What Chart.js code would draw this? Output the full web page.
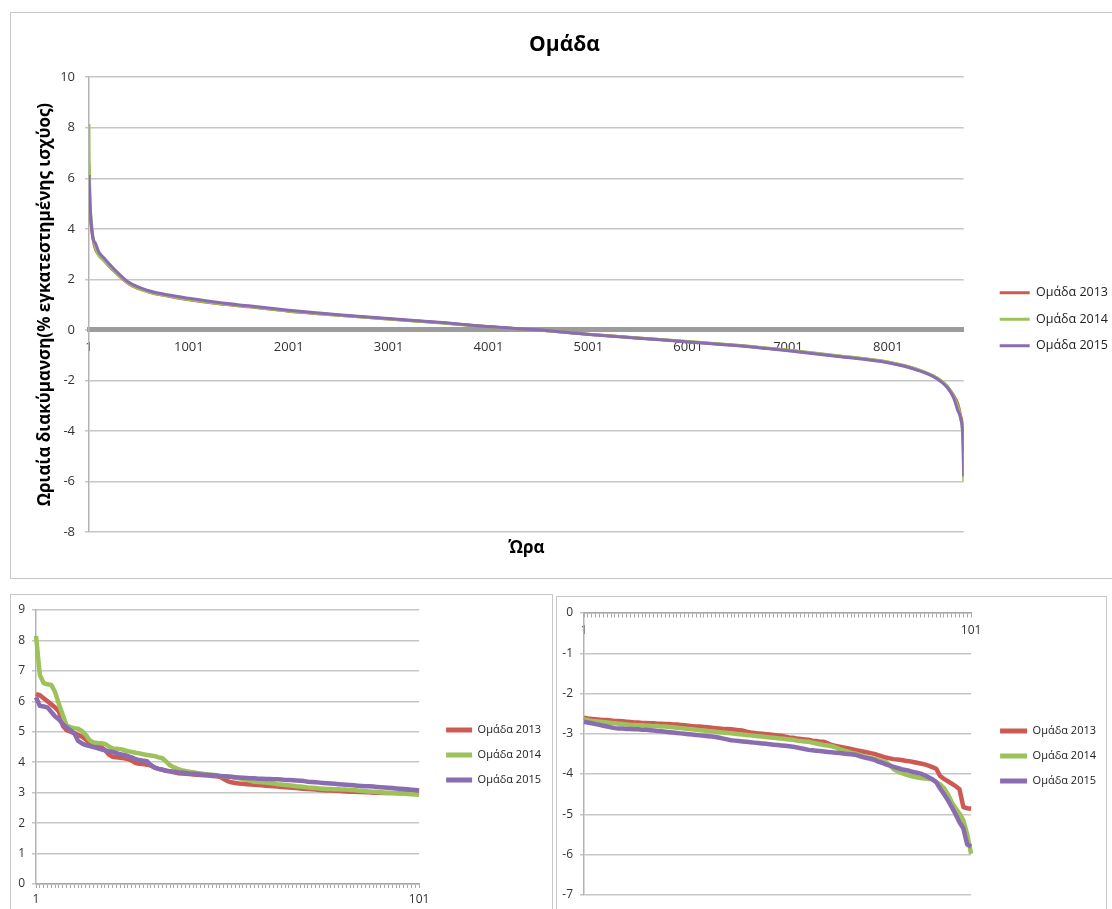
<!DOCTYPE html>
<html>
<head>
<meta charset="utf-8">
<title>Ομάδα</title>
<script src="https://cdn.jsdelivr.net/npm/chart.js@4/dist/chart.umd.min.js"></script>
<style>
  html, body { margin: 0; padding: 0; background: #fff; overflow: hidden; width: 1112px; height: 909px; }
  .frame { position: absolute; border: 1px solid #c8c8c8; box-sizing: border-box; }
  canvas { position: absolute; }
</style>
</head>
<body>
<div class="frame" style="left:10px;top:12px;width:1130px;height:567px"></div>
<div class="frame" style="left:10px;top:594px;width:543px;height:330px"></div>
<div class="frame" style="left:556px;top:596px;width:551px;height:330px"></div>
<canvas id="mainChart" width="1107" height="565" style="left:11px;top:13px"></canvas>
<canvas id="earlyChart" width="540" height="314" style="left:11px;top:595px"></canvas>
<canvas id="lateChart" width="549" height="312" style="left:557px;top:597px"></canvas>
<script>
// Series names and colours
const seriesNames = ['Ομάδα 2013', 'Ομάδα 2014', 'Ομάδα 2015'];
const seriesColors = ['#CC5A53', '#9DC25A', '#8A6DB0'];

// Full-year duration curve: sampled hours and sorted hourly variation (% of installed capacity)
const mainHours = [1, 2, 5, 10, 20, 40, 70, 101, 150, 250, 400, 600, 800, 1001, 1300, 1600, 2001, 2500, 3001, 3500, 4001, 4500, 5001, 5500, 6001, 6500, 7001, 7500, 8001, 8300, 8500, 8600, 8660, 8700, 8730, 8750, 8755, 8760];
const main2013 = [6.24, 6.2, 5.9, 5.0, 4.25, 3.62, 3.14, 2.98, 2.75, 2.33, 1.82, 1.5, 1.33, 1.19, 1.03, 0.91, 0.74, 0.58, 0.43, 0.29, 0.12, -0.01, -0.17, -0.32, -0.47, -0.62, -0.81, -1.03, -1.28, -1.58, -1.93, -2.27, -2.6, -2.91, -3.4, -3.83, -4.24, -4.86];
const main2014 = [8.15, 6.87, 6.54, 5.15, 4.52, 3.71, 3.2, 2.93, 2.75, 2.35, 1.83, 1.5, 1.34, 1.2, 1.04, 0.92, 0.75, 0.58, 0.43, 0.28, 0.12, -0.01, -0.17, -0.32, -0.46, -0.61, -0.8, -1.02, -1.27, -1.57, -1.92, -2.25, -2.64, -3.01, -3.49, -4.14, -4.7, -5.98];
const main2015 = [6.13, 5.85, 5.65, 5.05, 4.36, 3.65, 3.39, 3.07, 2.85, 2.42, 1.88, 1.55, 1.38, 1.25, 1.08, 0.95, 0.78, 0.6, 0.45, 0.3, 0.13, 0.0, -0.18, -0.33, -0.48, -0.63, -0.83, -1.05, -1.3, -1.6, -1.95, -2.3, -2.7, -3.18, -3.52, -4.13, -4.82, -5.8];
const mainTickHours = [1, 1001, 2001, 3001, 4001, 5001, 6001, 7001, 8001];

// Position labels for the 101-hour close-ups
const closeUpLabels = Array.from({ length: 101 }, (_, i) => String(i + 1));

// Highest 101 hours
const early2013 = [
  6.24, 6.2, 6.1, 6.0, 5.9, 5.8, 5.66, 5.2, 5.05, 5.0,
  4.95, 4.9, 4.84, 4.75, 4.62, 4.58, 4.53, 4.5, 4.4, 4.25,
  4.18, 4.16, 4.15, 4.13, 4.1, 4.05, 3.97, 3.95, 3.94, 3.92,
  3.89, 3.82, 3.78, 3.76, 3.72, 3.7, 3.67, 3.64, 3.63, 3.62,
  3.61, 3.6, 3.59, 3.58, 3.57, 3.56, 3.55, 3.54, 3.52, 3.45,
  3.38, 3.34, 3.32, 3.3, 3.29, 3.28, 3.27, 3.26, 3.25, 3.24,
  3.23, 3.22, 3.21, 3.2, 3.19, 3.18, 3.17, 3.16, 3.15, 3.14,
  3.13, 3.12, 3.11, 3.1, 3.09, 3.08, 3.07, 3.07, 3.06, 3.06,
  3.05, 3.04, 3.03, 3.03, 3.02, 3.02, 3.01, 3.01, 3.0, 3.0,
  3.0, 2.99, 2.99, 2.99, 2.99, 2.98, 2.98, 2.98, 2.98, 2.98, 2.98
];
const early2014 = [
  8.15, 6.87, 6.6, 6.56, 6.54, 6.3, 5.9, 5.55, 5.2, 5.15,
  5.12, 5.1, 5.02, 4.9, 4.72, 4.65, 4.63, 4.62, 4.6, 4.52,
  4.45, 4.44, 4.43, 4.4, 4.36, 4.34, 4.31, 4.29, 4.26, 4.24,
  4.22, 4.2, 4.16, 4.13, 4.02, 3.9, 3.83, 3.78, 3.74, 3.71,
  3.69, 3.67, 3.65, 3.63, 3.61, 3.6, 3.59, 3.57, 3.55, 3.54,
  3.53, 3.51, 3.49, 3.47, 3.45, 3.42, 3.39, 3.36, 3.35, 3.34,
  3.33, 3.32, 3.3, 3.28, 3.27, 3.25, 3.24, 3.23, 3.21, 3.2,
  3.19, 3.17, 3.16, 3.15, 3.14, 3.13, 3.12, 3.12, 3.11, 3.11,
  3.1, 3.1, 3.09, 3.09, 3.07, 3.06, 3.05, 3.04, 3.03, 3.02,
  3.01, 3.0, 2.99, 2.99, 2.98, 2.97, 2.97, 2.96, 2.95, 2.94, 2.93
];
const early2015 = [
  6.13, 5.85, 5.83, 5.8, 5.65, 5.5, 5.4, 5.25, 5.15, 5.05,
  4.95, 4.7, 4.62, 4.56, 4.53, 4.5, 4.46, 4.42, 4.39, 4.36,
  4.34, 4.3, 4.26, 4.24, 4.2, 4.16, 4.1, 4.07, 4.05, 4.03,
  3.9, 3.82, 3.78, 3.75, 3.72, 3.7, 3.69, 3.67, 3.66, 3.65,
  3.63, 3.62, 3.61, 3.6, 3.59, 3.58, 3.57, 3.56, 3.55, 3.54,
  3.53, 3.52, 3.51, 3.5, 3.49, 3.48, 3.47, 3.47, 3.46, 3.46,
  3.45, 3.45, 3.44, 3.44, 3.43, 3.42, 3.42, 3.41, 3.4, 3.39,
  3.38, 3.36, 3.35, 3.34, 3.33, 3.32, 3.31, 3.3, 3.29, 3.28,
  3.27, 3.26, 3.25, 3.24, 3.23, 3.22, 3.21, 3.21, 3.2, 3.19,
  3.18, 3.17, 3.16, 3.15, 3.14, 3.13, 3.12, 3.11, 3.1, 3.09, 3.07
];

// Lowest 101 hours
const late2013 = [
  -2.6, -2.62, -2.63, -2.64, -2.65, -2.66, -2.66, -2.67, -2.68, -2.68,
  -2.69, -2.7, -2.71, -2.72, -2.72, -2.73, -2.73, -2.74, -2.74, -2.75,
  -2.75, -2.76, -2.76, -2.77, -2.77, -2.78, -2.79, -2.8, -2.81, -2.82,
  -2.82, -2.83, -2.84, -2.85, -2.86, -2.87, -2.88, -2.88, -2.89, -2.9,
  -2.91, -2.92, -2.95, -2.97, -2.98, -2.99, -3.0, -3.01, -3.02, -3.03,
  -3.04, -3.05, -3.07, -3.09, -3.1, -3.12, -3.13, -3.14, -3.15, -3.17,
  -3.18, -3.2, -3.2, -3.24, -3.28, -3.3, -3.32, -3.34, -3.36, -3.38,
  -3.4, -3.42, -3.44, -3.46, -3.48, -3.5, -3.53, -3.56, -3.59, -3.61,
  -3.63, -3.64, -3.65, -3.67, -3.68, -3.7, -3.72, -3.74, -3.76, -3.79,
  -3.83, -3.87, -4.05, -4.12, -4.18, -4.24, -4.3, -4.38, -4.82, -4.85, -4.86
];
const late2014 = [
  -2.64, -2.66, -2.68, -2.69, -2.7, -2.71, -2.72, -2.73, -2.74, -2.75,
  -2.76, -2.77, -2.78, -2.78, -2.79, -2.79, -2.8, -2.8, -2.81, -2.81,
  -2.82, -2.82, -2.83, -2.84, -2.85, -2.86, -2.87, -2.88, -2.89, -2.9,
  -2.91, -2.92, -2.93, -2.94, -2.95, -2.96, -2.97, -2.98, -2.99, -3.0,
  -3.01, -3.02, -3.03, -3.04, -3.05, -3.06, -3.07, -3.08, -3.09, -3.1,
  -3.11, -3.12, -3.13, -3.14, -3.15, -3.17, -3.18, -3.19, -3.2, -3.22,
  -3.24, -3.26, -3.28, -3.29, -3.31, -3.34, -3.38, -3.41, -3.44, -3.47,
  -3.49, -3.52, -3.55, -3.58, -3.6, -3.62, -3.65, -3.68, -3.7, -3.78,
  -3.88, -3.93, -3.97, -4.01, -4.04, -4.06, -4.08, -4.1, -4.11, -4.12,
  -4.14, -4.2, -4.26, -4.35, -4.5, -4.7, -4.85, -4.98, -5.15, -5.5, -5.98
];
const late2015 = [
  -2.7, -2.72, -2.74, -2.76, -2.78, -2.8, -2.82, -2.84, -2.86, -2.87,
  -2.87, -2.88, -2.88, -2.89, -2.89, -2.9, -2.9, -2.91, -2.92, -2.93,
  -2.94, -2.95, -2.96, -2.97, -2.98, -2.99, -3.0, -3.01, -3.02, -3.03,
  -3.04, -3.05, -3.06, -3.07, -3.08, -3.1, -3.12, -3.14, -3.16, -3.17,
  -3.18, -3.19, -3.2, -3.21, -3.22, -3.23, -3.24, -3.25, -3.26, -3.27,
  -3.28, -3.29, -3.3, -3.31, -3.32, -3.34, -3.36, -3.38, -3.4, -3.41,
  -3.42, -3.43, -3.44, -3.45, -3.46, -3.47, -3.48, -3.49, -3.5, -3.51,
  -3.52, -3.55, -3.58, -3.6, -3.62, -3.65, -3.69, -3.72, -3.76, -3.79,
  -3.82, -3.85, -3.88, -3.9, -3.92, -3.95, -3.97, -3.99, -4.03, -4.08,
  -4.13, -4.2, -4.36, -4.5, -4.65, -4.82, -5.0, -5.2, -5.35, -5.75, -5.8
];

const FONT = '"Open Sans", "DejaVu Sans", sans-serif';
Chart.defaults.font.family = FONT;
Chart.defaults.color = '#333';
Chart.defaults.animation = false;
Chart.defaults.events = [];

function lineSet(i, values, width, hours) {
  const set = {
    label: seriesNames[i],
    data: hours ? hours.map((h, j) => ({ x: h, y: values[j] })) : values,
    borderColor: seriesColors[i],
    backgroundColor: seriesColors[i],
    borderWidth: width,
    pointRadius: 0,
    pointHoverRadius: 0,
    tension: 0,
    fill: false,
    borderJoinStyle: 'round',
    order: 2 - i
  };
  if (hours) set.cubicInterpolationMode = 'monotone';
  return set;
}

function legendOpts(fontSize, boxWidth, boxHeight, gap, offsetTop) {
  return {
    position: 'right',
    align: 'start',
    maxWidth: 300,
    title: { display: true, text: '', font: { size: 10 }, padding: { top: offsetTop, bottom: 0 } },
    labels: {
      font: { size: fontSize, family: FONT },
      color: '#222',
      boxWidth: boxWidth,
      boxHeight: boxHeight,
      padding: gap,
      sort: (a, b) => a.datasetIndex - b.datasetIndex,
      generateLabels: chart => Chart.defaults.plugins.legend.labels.generateLabels(chart)
        .map(item => Object.assign(item, { lineWidth: 0 }))
    }
  };
}

// Empty right-hand scale that keeps a gap between plot and legend
function spacer(width) {
  return {
    type: 'linear', position: 'right', display: true,
    grid: { display: false }, border: { display: false }, ticks: { display: false },
    afterFit: s => { s.width = width; }
  };
}

const gridColor = '#c6c6c6';

// Main chart: full-year duration curves
new Chart(document.getElementById('mainChart'), {
  type: 'line',
  data: {
    datasets: [
      lineSet(0, main2013, 3, mainHours),
      lineSet(1, main2014, 3, mainHours),
      lineSet(2, main2015, 3, mainHours)
    ]
  },
  options: {
    responsive: false,
    layout: { padding: 0 },
    plugins: {
      title: { display: true, text: 'Ομάδα', color: '#000', font: { size: 21, weight: 'bold' }, padding: { top: 19, bottom: 20 } },
      subtitle: { display: true, position: 'bottom', fullSize: false, text: 'Ώρα', color: '#000', font: { size: 17, weight: 'bold' }, padding: { top: 6, bottom: 19.6 } },
      legend: legendOpts(12.5, 30, 3, 14, 247.5),
      tooltip: { enabled: false }
    },
    scales: {
      x: {
        type: 'linear', min: 1, max: 8760,
        position: { y: 0 },
        afterBuildTicks: s => { s.ticks = mainTickHours.map(v => ({ value: v })); },
        ticks: { autoSkip: false, maxRotation: 0, color: '#333', font: { size: 13 }, padding: 10, callback: v => String(v) },
        grid: { display: true, drawOnChartArea: false, drawTicks: false },
        border: { display: true, color: '#9c9c9c', width: 5 }
      },
      y: {
        min: -8, max: 10,
        ticks: { stepSize: 2, color: '#333', font: { size: 13 }, padding: 10 },
        grid: { color: gridColor, lineWidth: 1.5, tickLength: 4 },
        border: { display: true, color: '#b3b3b3', width: 1.5 },
        title: { display: true, text: 'Ωριαία διακύμανση(% εγκατεστημένης ισχύος)', color: '#000', font: { size: 17, weight: 'bold' }, padding: { top: 24, bottom: 0 } },
        afterFit: s => { s.width = 78; }
      },
      pad: spacer(22)
    }
  }
});

// Close-up of the highest 101 hours
new Chart(document.getElementById('earlyChart'), {
  type: 'line',
  data: {
    labels: closeUpLabels,
    datasets: [
      lineSet(0, early2013, 4.5),
      lineSet(1, early2014, 4.5),
      lineSet(2, early2015, 4.5)
    ]
  },
  options: {
    responsive: false,
    layout: { padding: { top: 15, bottom: 0, left: 0, right: 0 } },
    plugins: {
      legend: legendOpts(11, 26, 5, 14, 88.5),
      tooltip: { enabled: false }
    },
    scales: {
      x: {
        type: 'category',
        ticks: {
          autoSkip: false, maxRotation: 0, minRotation: 0, color: '#333', font: { size: 12 }, padding: 4,
          callback: function (v, i) { return (i === 0 || i === closeUpLabels.length - 1) ? this.getLabelForValue(v) : ''; }
        },
        grid: { drawOnChartArea: false, drawTicks: true, tickLength: 4, color: '#a8a8a8' },
        border: { color: '#a8a8a8', width: 1.5 },
        afterFit: s => { s.height = 25; }
      },
      y: {
        min: 0, max: 9,
        ticks: { stepSize: 1, color: '#333', font: { size: 12 }, padding: 7 },
        grid: { color: gridColor, lineWidth: 1.5, tickLength: 4 },
        border: { color: '#b3b3b3', width: 1.5 },
        afterFit: s => { s.width = 25; }
      },
      pad: spacer(13)
    }
  }
});

// Close-up of the lowest 101 hours
new Chart(document.getElementById('lateChart'), {
  type: 'line',
  data: {
    labels: closeUpLabels,
    datasets: [
      lineSet(0, late2013, 4.5),
      lineSet(1, late2014, 4.5),
      lineSet(2, late2015, 4.5)
    ]
  },
  options: {
    responsive: false,
    layout: { padding: { top: 16, bottom: 12, left: 0, right: 0 } },
    plugins: {
      legend: legendOpts(11, 27, 5, 14, 86.5),
      tooltip: { enabled: false }
    },
    scales: {
      x: {
        type: 'category',
        position: { y: 0 },
        ticks: {
          autoSkip: false, maxRotation: 0, minRotation: 0, color: '#333', font: { size: 12 }, padding: 6,
          callback: function (v, i) { return (i === 0 || i === closeUpLabels.length - 1) ? this.getLabelForValue(v) : ''; }
        },
        grid: { drawOnChartArea: false, drawTicks: true, tickLength: 4, color: '#a8a8a8' },
        border: { color: '#a8a8a8', width: 1.5 }
      },
      y: {
        min: -7, max: 0,
        ticks: { stepSize: 1, color: '#333', font: { size: 12 }, padding: 7 },
        grid: { color: gridColor, lineWidth: 1.5, tickLength: 4 },
        border: { color: '#b3b3b3', width: 1.5 },
        afterFit: s => { s.width = 27; }
      },
      pad: spacer(15)
    }
  }
});
</script>
</body>
</html>
